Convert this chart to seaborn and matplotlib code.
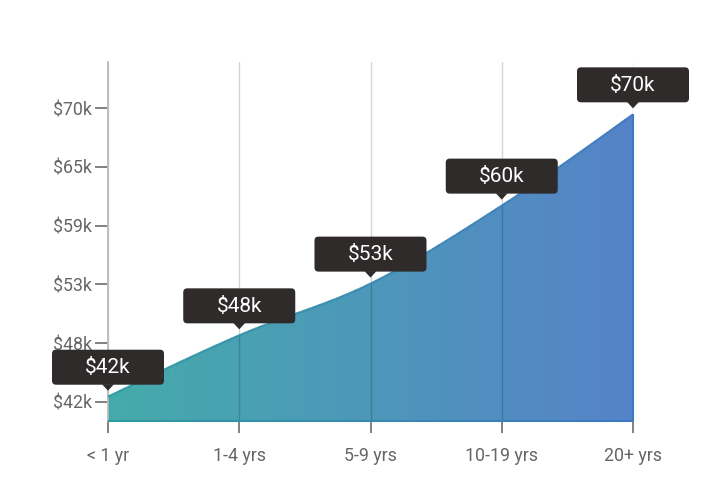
import numpy as np
import matplotlib
matplotlib.use('Agg')
import matplotlib.pyplot as plt
import seaborn as sns
from matplotlib import transforms
from matplotlib.collections import LineCollection
from matplotlib.colors import LinearSegmentedColormap
from matplotlib.patches import FancyBboxPatch, Polygon

# data
groups = ['< 1 yr', '1-4 yrs', '5-9 yrs', '10-19 yrs', '20+ yrs']
salary = [42980, 48890, 53870, 61380, 70170]
bubble_labels = ['$42k', '$48k', '$53k', '$60k', '$70k']
y_ticks = [42500, 48150, 53800, 59450, 65100, 70750]
y_tick_labels = ['$42k', '$48k', '$53k', '$59k', '$65k', '$70k']

sns.set_theme(style='white')
plt.rcParams['font.family'] = ['Roboto', 'DejaVu Sans']


def monotone_x(x, y, n=60):
    # d3 style monotone cubic, only for drawing the smooth line
    x = np.asarray(x, float)
    y = np.asarray(y, float)
    h = np.diff(x)
    s = np.diff(y) / h
    m = np.zeros_like(y)
    for k in range(1, len(y) - 1):
        p = (s[k - 1] * h[k] + s[k] * h[k - 1]) / (h[k - 1] + h[k])
        m[k] = (np.sign(s[k - 1]) + np.sign(s[k])) * min(abs(s[k - 1]), abs(s[k]), 0.5 * abs(p))
    m[0] = (3 * s[0] - m[1]) / 2
    m[-1] = (3 * s[-1] - m[-2]) / 2
    xs, ys = [], []
    for k in range(len(x) - 1):
        t = np.linspace(0, 1, n, endpoint=(k == len(x) - 2))
        h00 = 2 * t**3 - 3 * t**2 + 1
        h10 = t**3 - 2 * t**2 + t
        h01 = -2 * t**3 + 3 * t**2
        h11 = t**3 - t**2
        xs.append(x[k] + t * h[k])
        ys.append(h00 * y[k] + h10 * h[k] * m[k] + h01 * y[k + 1] + h11 * h[k] * m[k + 1])
    return np.concatenate(xs), np.concatenate(ys)


fig = plt.figure(figsize=(7.14, 5.04), dpi=100)
ax = fig.add_axes([108 / 714, 83.3 / 504, 525 / 714, 358.7 / 504])

xpos = np.arange(len(groups))
ylo, yhi = 40670, 75210
cx, cy = monotone_x(xpos, salary)

# gradient area
fill_cmap = LinearSegmentedColormap.from_list('fill', ['#45abab', '#5683c8'])
line_cmap = LinearSegmentedColormap.from_list('line', ['#2e9b9e', '#3f78c4'])
grad = np.linspace(0, 1, 256).reshape(1, -1)
im = ax.imshow(grad, cmap=fill_cmap, aspect='auto', origin='lower',
               extent=[xpos[0], xpos[-1], ylo, max(salary)], zorder=1)
verts = np.column_stack([np.r_[cx, xpos[-1], xpos[0]], np.r_[cy, ylo, ylo]])
poly = Polygon(verts, closed=True, fc='none', ec='none')
ax.add_patch(poly)
im.set_clip_path(poly)

# outline
bx = np.linspace(xpos[-1], xpos[0], 100)
ox = np.r_[cx, bx]
oy = np.r_[cy, np.full(len(bx), ylo)]
pts = np.column_stack([ox, oy]).reshape(-1, 1, 2)
segs = np.concatenate([pts[:-1], pts[1:]], axis=1)
mid = (ox[:-1] + ox[1:]) / 2 / xpos[-1]
lc = LineCollection(segs, colors=line_cmap(mid), linewidths=1.5, zorder=3, clip_on=False)
ax.add_collection(lc)

ax.set_xlim(xpos[0], xpos[-1])
ax.set_ylim(ylo, yhi)
ax.set_xticks(xpos, groups)
ax.set_yticks(y_ticks, y_tick_labels)
ax.tick_params(axis='x', length=8.6, width=1.3, color='#777777', pad=10.5,
               labelsize=12.8, labelcolor='#666666')
ax.tick_params(axis='y', length=9.4, width=1.3, color='#777777', pad=2,
               labelsize=12.8, labelcolor='#666666', left=True)
ax.tick_params(axis='x', bottom=True)
ax.grid(axis='x', color='black', alpha=0.17, lw=1)
ax.set_axisbelow('line')
sns.despine(ax=ax, top=True, right=True, bottom=True)
ax.spines['left'].set_color('#bbbbbb')
ax.spines['left'].set_linewidth(1.3)

# tooltips
for i, (v, lab) in enumerate(zip(salary, bubble_labels)):
    tr = transforms.Affine2D() + transforms.ScaledTranslation(xpos[i], v, ax.transData)
    box = FancyBboxPatch((-56, 12), 112, 35, boxstyle='round,pad=0,rounding_size=4',
                         transform=tr, fc='#2f2b2b', ec='none', clip_on=False, zorder=5)
    ax.add_patch(box)
    tri = Polygon([(-6, 12.5), (6, 12.5), (0, 6)], closed=True, transform=tr,
                  fc='#2f2b2b', ec='none', clip_on=False, zorder=5)
    ax.add_patch(tri)
    ax.text(0, 29, lab, transform=tr, ha='center', va='center', color='white',
            fontsize=15, zorder=6, clip_on=False)

fig.savefig('out.png', dpi=100)
